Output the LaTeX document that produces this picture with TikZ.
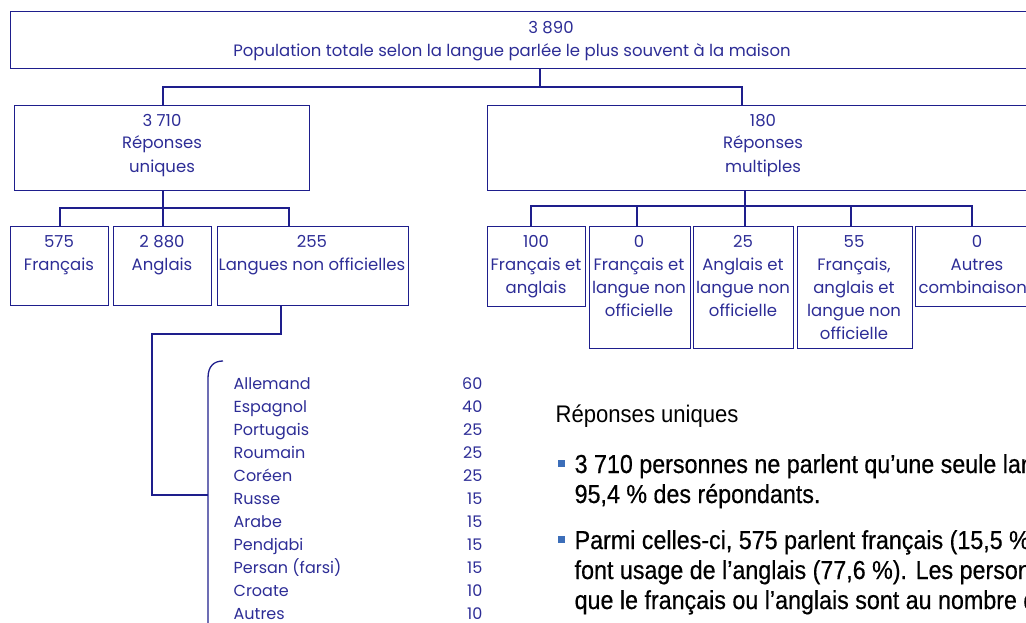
\documentclass[tikz,border=0pt]{standalone}
\usepackage{fontspec}
\setmainfont{Poppins}
\newfontfamily\condfont[FakeStretch=0.92]{Liberation Sans}
\newfontfamily\condbold[FakeStretch=0.895,FakeBold=0.5]{Liberation Sans}
\definecolor{navy}{RGB}{30,30,140}
\definecolor{txtblue}{RGB}{45,45,150}
\definecolor{bulletblue}{RGB}{60,110,185}
\begin{document}
\begin{tikzpicture}[x=1pt,y=-1pt,line width=1.3pt,
  box/.style={draw=navy,rectangle,inner sep=0pt,anchor=north west},
  lbl/.style={text=txtblue,font=\fontsize{16.5}{19}\selectfont,inner sep=0pt,anchor=base},
  item/.style={text=txtblue,font=\fontsize{16}{19}\selectfont,inner sep=0pt,anchor=base west},
  num/.style={text=txtblue,font=\fontsize{16}{19}\selectfont,inner sep=0pt,anchor=base east},
  wire/.style={draw=navy,line width=1.3pt},
  htxt/.style={text=black,font=\condfont\fontsize{24}{28}\selectfont,inner sep=0pt,anchor=base west},
  ptxt/.style={text=black,font=\condbold\fontsize{26}{30}\selectfont,inner sep=0pt,anchor=base west},
  bsq/.style={fill=bulletblue,draw=none,rectangle,minimum size=7pt,inner sep=0pt}]
\useasboundingbox (0,0) rectangle (1026,623);
\clip (0,0) rectangle (1026,623);
% boxes
\node[box,minimum width=1040pt,minimum height=57pt] (top) at (10,11) {};
\node[box,minimum width=295pt,minimum height=85pt] (ru) at (14,105) {};
\node[box,minimum width=560pt,minimum height=85pt] (rm) at (487,105) {};
\node[box,minimum width=98pt,minimum height=79pt] (fr) at (10,226) {};
\node[box,minimum width=98pt,minimum height=79pt] (an) at (113,226) {};
\node[box,minimum width=191pt,minimum height=79pt] (lno) at (217,226) {};
\node[box,minimum width=98pt,minimum height=80pt] (m1) at (487,226) {};
\node[box,minimum width=101pt,minimum height=122pt] (m2) at (589,226) {};
\node[box,minimum width=100pt,minimum height=122pt] (m3) at (693,226) {};
\node[box,minimum width=115pt,minimum height=122pt] (m4) at (797,226) {};
\node[box,minimum width=124pt,minimum height=80pt] (m5) at (915,226) {};
% texts in boxes
\node[lbl] (t0a) at (551,34) {3 890};
\node[lbl] (t0b) at (512,57) {Population totale selon la langue parlée le plus souvent à la maison};
\node[lbl] (rua) at (162,127) {3 710};
\node[lbl] (rub) at (162,149) {Réponses};
\node[lbl] (ruc) at (162,172) {uniques};
\node[lbl] (rma) at (763,127) {180};
\node[lbl] (rmb) at (763,149) {Réponses};
\node[lbl] (rmc) at (763,172) {multiples};
\node[lbl] (fra) at (59,247) {575};
\node[lbl] (frb) at (59,270) {Français};
\node[lbl] (ana) at (162,247) {2 880};
\node[lbl] (anb) at (162,270) {Anglais};
\node[lbl] (lnoa) at (312,247) {255};
\node[lbl] (lnob) at (312,270) {Langues non officielles};
\node[lbl] (m1a) at (536,247) {100};
\node[lbl] (m1b) at (536,270) {Français et};
\node[lbl] (m1c) at (536,293) {anglais};
\node[lbl] (m2a) at (639,247) {0};
\node[lbl] (m2b) at (639,270) {Français et};
\node[lbl] (m2c) at (639,293) {langue non};
\node[lbl] (m2d) at (639,316) {officielle};
\node[lbl] (m3a) at (743,247) {25};
\node[lbl] (m3b) at (743,270) {Anglais et};
\node[lbl] (m3c) at (743,293) {langue non};
\node[lbl] (m3d) at (743,316) {officielle};
\node[lbl] (m4a) at (854,247) {55};
\node[lbl] (m4b) at (854,270) {Français,};
\node[lbl] (m4c) at (854,293) {anglais et};
\node[lbl] (m4d) at (854,316) {langue non};
\node[lbl] (m4e) at (854,339) {officielle};
\node[lbl] (m5a) at (977,247) {0};
\node[lbl] (m5b) at (977,270) {Autres};
\node[lbl] (m5c) at (977,293) {combinaisons};
% connectors
\coordinate (j0) at (540,87);
\draw[wire] (top.south -| j0) -- (j0);
\draw[wire] (ru.north -| 163,0) |- (j0) -| (rm.north -| 742,0);
\coordinate (j1) at (163,208);
\draw[wire] (ru.south -| j1) -- (an.north -| j1);
\draw[wire] (fr.north -| 60,0) |- (j1) -| (lno.north -| 289,0);
\coordinate (j2) at (745,206);
\draw[wire] (rm.south -| j2) -- (m3.north -| j2);
\draw[wire] (m1.north -| 531,0) |- (j2) -| (m5.north -| 972,0);
\draw[wire] (m2.north -| 637,0) -- (637,206);
\draw[wire] (m4.north -| 851,0) -- (851,206);
% bracket link
\coordinate (b0) at (208,495);
\draw[wire] (lno.south -| 281,0) |- (152,334) -- (152,495) -- (b0);
\coordinate (btop) at (223,361);
\draw[wire] (btop) .. controls (214,361) and (208,366) .. (208,378) -- (208,630);
% list
\foreach \n [count=\i from 0] in {Allemand,Espagnol,Portugais,Roumain,Coréen,Russe,Arabe,Pendjabi,Persan (farsi),Croate,Autres}
  \node[item] (li\i) at (233,389+23*\i) {\n};
\foreach \v [count=\i from 0] in {60,40,25,25,25,15,15,15,15,10,10}
  \node[num] (lv\i) at (483,389+23*\i) {\v};
% right text
\node[htxt] (head) at (555,422) {Réponses uniques};
\node[bsq] (bq1) at (561,463) {};
\node[ptxt] (p1) at (574,473) {3 710 personnes ne parlent qu’une seule langue,};
\node[ptxt] (p2) at (574,503) {95,4 \% des répondants.};
\node[bsq] (bq2) at (561,539) {};
\node[ptxt] (p3) at (574,549) {Parmi celles-ci, 575 parlent français (15,5 \%)};
\node[ptxt] (p4) at (574,579) {font usage de l’anglais (77,6 \%). Les personnes};
\node[ptxt] (p5) at (574,609) {que le français ou l’anglais sont au nombre de};
\end{tikzpicture}
\end{document}
